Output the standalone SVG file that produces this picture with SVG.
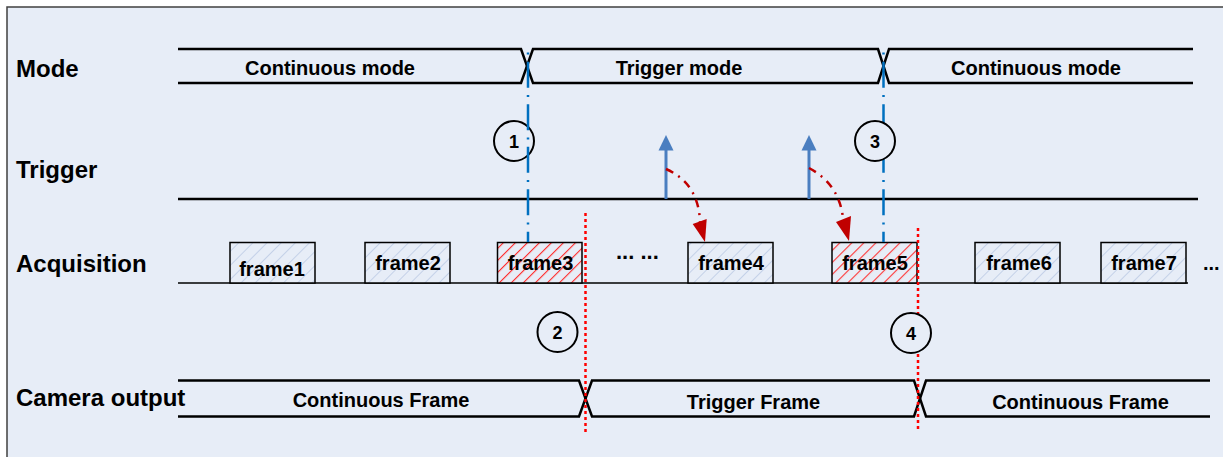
<svg xmlns="http://www.w3.org/2000/svg" width="1223" height="457" viewBox="0 0 1223 457">
<style>
text{font-family:"Liberation Sans",Arial,sans-serif;font-weight:bold;fill:#000}
.lbl{font-size:24px}
.sig{font-size:20px;text-anchor:middle}
.num{font-size:18px;text-anchor:middle}
.wave{fill:none;stroke:#000;stroke-width:2.5}
.frame{stroke:#000;stroke-width:1.5}
.blue-dd{fill:none;stroke:#0070C0;stroke-width:2.5;stroke-dasharray:26 7.25 2 7.25;stroke-dashoffset:29.75}
.red-dot{fill:none;stroke:#FF0000;stroke-width:2.5;stroke-dasharray:3 3}
.red-dd{fill:none;stroke:#C00000;stroke-width:2.5;stroke-dasharray:8 6 2 6}
.circ{fill:#E7EDF7;stroke:#000;stroke-width:2}
</style>
<defs>
<pattern id="hb" patternUnits="userSpaceOnUse" width="10" height="10" patternTransform="rotate(45)">
<rect width="10" height="10" fill="#E7EDF7"/>
<line x1="0" y1="0" x2="0" y2="10" stroke="#B8C8E4" stroke-width="1.5"/>
</pattern>
<pattern id="hr" patternUnits="userSpaceOnUse" width="8.5" height="8.5" patternTransform="rotate(45)">
<rect width="8.5" height="8.5" fill="#E7EDF7"/>
<line x1="0" y1="0" x2="0" y2="8.5" stroke="#FF3030" stroke-width="2.2"/>
</pattern>
</defs>
<rect x="0" y="0" width="1223" height="457" fill="#FFFFFF"/>
<rect x="7" y="7" width="1240" height="470" fill="#E7EDF7" stroke="#404040" stroke-width="1.5"/>

<g id="labels">
<text class="lbl" x="16" y="77">Mode</text>
<text class="lbl" x="16" y="178">Trigger</text>
<text class="lbl" x="16" y="272">Acquisition</text>
<text class="lbl" x="16" y="406">Camera output</text>
</g>

<g id="mode">
<path class="wave" d="M178,49 H521 L533,83 H878 L889,49 H1193"/>
<path class="wave" d="M178,83 H521 L533,49 H878 L889,83 H1193"/>
<text class="sig" x="330" y="75">Continuous mode</text>
<text class="sig" x="679" y="75">Trigger mode</text>
<text class="sig" x="1036" y="75">Continuous mode</text>
</g>

<g id="trigger">
<line x1="178" y1="199" x2="1198" y2="199" stroke="#000" stroke-width="2.5"/>
</g>

<g id="acquisition">
<line x1="178" y1="283" x2="1188" y2="283" stroke="#000" stroke-width="1.5"/>
<text x="616" y="259" style="font-size:22px">... ...</text>
<text x="1203" y="270" style="font-size:20px">...</text>
</g>

<g id="frame1"><rect class="frame" x="230" y="242.5" width="85" height="40.5" fill="url(#hb)"/><text class="sig" x="272" y="276">frame1</text></g>
<g id="frame2"><rect class="frame" x="365" y="242.5" width="85" height="40.5" fill="url(#hb)"/><text class="sig" x="408" y="270">frame2</text></g>
<g id="frame3"><rect class="frame" x="497.5" y="242.5" width="84.5" height="40.5" fill="url(#hr)"/><text class="sig" x="540.5" y="270">frame3</text></g>
<g id="frame4"><rect class="frame" x="688" y="242.5" width="85" height="40.5" fill="url(#hb)"/><text class="sig" x="731" y="270">frame4</text></g>
<g id="frame5"><rect class="frame" x="832" y="242.5" width="85" height="40.5" fill="url(#hr)"/><text class="sig" x="875" y="270">frame5</text></g>
<g id="frame6"><rect class="frame" x="975" y="242.5" width="85" height="40.5" fill="url(#hb)"/><text class="sig" x="1019" y="270">frame6</text></g>
<g id="frame7"><rect class="frame" x="1101" y="242.5" width="85" height="40.5" fill="url(#hb)"/><text class="sig" x="1144" y="270">frame7</text></g>

<g id="camera-output">
<path class="wave" d="M178,380.5 H579 L592,416.5 H914 L926,380.5 H1210"/>
<path class="wave" d="M178,416.5 H579 L592,380.5 H914 L926,416.5 H1210"/>
<text class="sig" x="381" y="407">Continuous Frame</text>
<text class="sig" x="753.5" y="409">Trigger Frame</text>
<text class="sig" x="1080.5" y="409">Continuous Frame</text>
</g>

<g id="connectors">
<line class="red-dot" x1="585.5" y1="213" x2="585.5" y2="432"/>
<line class="red-dot" x1="918" y1="228" x2="918" y2="431"/>
<line class="blue-dd" x1="883.5" y1="49" x2="883.5" y2="242"/>
<g id="c1-marker"><circle class="circ" cx="514" cy="141" r="20"/><text class="num" x="514" y="147.5">1</text></g>
<line class="blue-dd" x1="528" y1="49" x2="528" y2="242"/>
<line x1="666" y1="199" x2="666" y2="148" stroke="#4A7EC0" stroke-width="3"/>
<polygon points="658.5,150.5 673.5,150.5 666,135" fill="#4A7EC0"/>
<line x1="809" y1="199" x2="809" y2="148" stroke="#4A7EC0" stroke-width="3"/>
<polygon points="801.5,150.5 816.5,150.5 809,135" fill="#4A7EC0"/>
<path class="red-dd" d="M666,169 C686,178 699,194 700,222"/>
<polygon points="692.7,224 706.7,219 705,242" fill="#C00000"/>
<path class="red-dd" d="M809,168 C826,177 840,192 843,218"/>
<polygon points="836,222 851,216 849,241" fill="#C00000"/>
</g>

<g id="c2-marker"><circle class="circ" cx="557.5" cy="332" r="20"/><text class="num" x="557.5" y="338.5">2</text></g>
<g id="c3-marker"><circle class="circ" cx="875" cy="141" r="20"/><text class="num" x="875" y="147.5">3</text></g>
<g id="c4-marker"><circle class="circ" cx="911" cy="333" r="20"/><text class="num" x="911" y="339.5">4</text></g>
</svg>
